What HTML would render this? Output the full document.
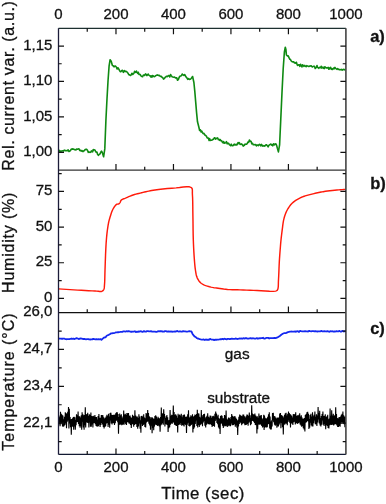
<!DOCTYPE html><html><head><meta charset="utf-8"><style>html,body{margin:0;padding:0;background:#fff;width:386px;height:504px;overflow:hidden}svg{display:block;will-change:transform}</style></head><body>
<svg width="386" height="504" viewBox="0 0 386 504" style='font-family:"Liberation Sans", sans-serif'>
<rect width="386" height="504" fill="#fff"/>
<style>text{stroke:#111;stroke-width:0.3px;paint-order:stroke}</style>
<polyline points="58.50,149.75 59.60,151.31 60.37,151.03 61.13,151.14 61.90,150.94 62.67,150.84 63.43,151.10 64.20,150.15 65.00,150.72 65.80,150.45 66.60,150.74 67.37,150.78 68.13,149.83 68.90,151.51 69.67,151.04 70.43,150.77 71.20,149.19 72.00,148.89 72.80,149.13 73.60,149.12 74.37,149.68 75.13,149.57 75.90,150.01 76.67,148.98 77.43,149.22 78.20,148.94 78.97,148.70 79.73,150.53 80.50,150.23 81.10,151.09 81.70,150.48 82.30,150.88 82.90,151.59 83.67,150.94 84.43,150.58 85.20,149.55 86.00,149.38 86.80,149.33 87.57,150.45 88.33,152.37 89.10,152.02 89.87,152.41 90.63,152.29 91.40,150.91 92.02,151.45 92.64,151.82 93.26,149.45 93.88,150.09 94.50,149.84 95.10,150.18 95.70,151.75 96.30,152.19 96.90,152.12 97.65,154.45 98.40,155.30 99.20,154.52 100.00,153.86 100.75,152.22 101.50,151.07 102.30,152.50 103.60,156.80 104.80,148.90 105.90,120.50 107.00,98.70 108.00,81.20 109.10,65.90 110.10,59.72 111.20,61.20 112.40,65.47 113.20,65.73 114.00,66.83 114.80,66.14 115.60,66.12 116.35,67.13 117.10,68.97 117.90,67.78 118.70,68.93 119.47,70.44 120.23,71.67 121.00,71.65 121.77,70.43 122.53,70.32 123.30,72.31 123.90,71.28 124.50,70.68 125.10,71.56 125.70,71.26 126.47,71.46 127.23,72.28 128.00,73.16 128.77,74.62 129.53,74.80 130.30,75.51 131.10,75.03 131.90,73.26 132.70,74.47 133.32,73.89 133.94,73.26 134.56,71.38 135.18,71.80 135.80,72.31 136.42,71.03 137.04,72.33 137.66,73.37 138.28,72.29 138.90,74.37 139.52,74.35 140.14,74.55 140.76,75.45 141.38,76.27 142.00,76.57 142.62,76.77 143.24,75.26 143.86,74.99 144.48,75.45 145.10,74.42 145.72,73.97 146.34,75.17 146.96,75.58 147.58,74.53 148.20,74.07 148.82,75.14 149.44,75.45 150.06,75.68 150.68,77.02 151.30,75.88 151.92,77.16 152.54,75.54 153.16,75.73 153.78,76.48 154.40,76.68 155.12,76.22 155.85,75.61 156.58,75.19 157.30,74.89 158.10,75.41 158.90,75.23 159.70,75.77 160.47,76.34 161.23,76.40 162.00,77.26 162.77,77.67 163.53,79.07 164.30,78.59 165.10,77.44 165.90,76.78 166.70,76.29 167.47,76.62 168.23,75.63 169.00,75.83 169.77,76.94 170.53,74.53 171.30,75.63 172.10,76.71 172.90,77.07 173.70,77.24 174.47,77.01 175.23,77.83 176.00,77.77 176.77,77.89 177.53,80.26 178.30,79.61 179.10,77.52 179.90,76.24 180.67,75.93 181.43,75.80 182.20,73.96 183.00,74.91 183.80,75.41 184.55,74.50 185.30,75.56 186.10,77.07 186.90,77.91 187.75,79.39 188.60,78.58 189.40,79.34 190.20,79.30 190.85,78.82 191.50,78.06 192.60,76.50 193.90,82.50 194.80,91.40 195.70,102.10 196.60,112.90 197.50,121.80 198.90,127.29 199.63,130.45 200.37,129.83 201.10,132.01 201.78,131.15 202.45,132.61 203.12,133.67 203.80,133.31 204.45,134.19 205.10,135.23 205.75,135.51 206.40,136.05 207.07,137.69 207.75,138.08 208.43,137.95 209.10,140.45 209.70,138.68 210.30,140.48 210.90,140.34 211.57,140.15 212.25,140.07 212.93,139.36 213.60,139.18 214.28,137.88 214.95,137.89 215.62,139.17 216.30,138.22 216.95,138.18 217.60,137.92 218.25,139.56 218.90,139.25 219.57,140.33 220.25,139.54 220.93,140.75 221.60,140.72 222.28,142.08 222.95,142.80 223.62,141.54 224.30,143.24 225.02,143.07 225.74,142.55 226.46,141.66 227.18,143.86 227.90,143.14 228.60,143.37 229.30,144.51 230.00,145.05 230.62,145.70 231.24,144.19 231.86,145.48 232.48,145.69 233.10,145.67 233.72,144.59 234.34,144.15 234.96,145.11 235.58,144.47 236.20,144.37 236.82,145.03 237.44,143.90 238.06,142.56 238.68,143.59 239.30,142.59 240.10,144.39 240.90,144.29 241.70,143.93 242.45,144.94 243.20,146.10 243.80,145.17 244.40,145.45 245.00,144.14 245.60,144.32 246.37,144.16 247.13,143.80 247.90,142.00 248.65,142.33 249.40,140.07 250.20,141.15 251.00,141.22 251.77,143.84 252.53,143.26 253.30,144.79 253.92,144.68 254.54,144.78 255.16,144.45 255.78,144.94 256.40,145.87 257.02,144.89 257.64,145.24 258.26,145.58 258.88,144.92 259.50,144.34 260.14,144.87 260.78,145.94 261.42,144.41 262.06,145.14 262.70,146.20 263.32,146.08 263.94,145.60 264.56,146.08 265.18,145.70 265.80,144.89 266.57,144.89 267.33,145.68 268.10,146.85 268.87,145.46 269.63,144.76 270.40,144.34 271.00,144.08 271.60,145.13 272.20,144.69 272.80,145.82 273.57,143.75 274.33,144.93 275.10,143.92 275.90,143.78 276.70,145.60 277.40,148.40 278.40,151.90 279.60,144.80 280.80,118.60 282.00,92.40 283.20,68.60 284.40,51.90 285.30,47.20 285.90,49.40 286.40,55.03 287.40,55.93 288.20,55.81 289.00,57.67 289.75,59.17 290.50,59.52 291.30,61.02 292.10,61.75 292.90,61.85 293.70,61.80 294.37,62.83 295.03,62.86 295.70,63.17 296.40,62.25 297.10,64.64 297.80,65.49 298.50,64.69 299.20,64.75 299.90,66.36 300.57,64.25 301.23,65.68 301.90,66.95 302.60,64.84 303.30,65.71 304.00,66.33 304.70,65.46 305.40,66.20 306.10,66.74 306.80,65.59 307.50,66.01 308.20,66.18 308.87,66.56 309.53,66.11 310.20,66.08 310.90,65.69 311.60,66.18 312.30,67.04 313.02,66.66 313.75,66.19 314.48,66.30 315.20,68.50 315.80,67.65 316.40,67.41 317.00,65.53 317.60,67.52 318.20,67.50 318.80,68.29 319.40,67.59 320.00,67.36 320.60,67.74 321.20,66.28 321.80,68.09 322.40,67.69 323.00,67.10 323.60,68.35 324.20,68.66 324.80,66.76 325.47,67.27 326.14,67.92 326.81,67.92 327.49,67.65 328.16,67.37 328.83,69.30 329.50,68.72 330.10,67.45 330.70,67.42 331.30,69.31 331.90,68.94 332.50,69.51 333.10,68.96 333.70,68.01 334.30,68.76 334.97,67.40 335.64,68.35 336.31,68.86 336.99,69.31 337.66,68.66 338.33,69.13 339.00,69.58 339.65,69.60 340.30,69.82 340.95,69.64 341.60,69.39 342.25,70.12 342.90,69.75 343.55,69.29 344.20,69.48 344.85,69.93 345.50,70.00" fill="none" stroke="#0f8a12" stroke-width="1.6" stroke-linejoin="round"/>
<polyline points="58.50,288.90 62.36,289.14 66.23,289.39 70.09,289.64 73.92,289.88 77.70,290.10 81.34,290.31 85.05,290.51 88.67,290.70 92.04,290.87 95.00,291.00 96.70,291.12 98.32,291.29 99.79,291.42 101.07,291.42 102.10,291.20 102.57,290.97 102.96,290.68 103.28,290.34 103.55,289.95 103.80,289.50 104.07,288.77 104.24,287.94 104.34,287.00 104.41,285.95 104.50,284.80 104.66,282.47 104.76,279.74 104.84,276.74 104.91,273.62 105.00,270.50 105.13,266.78 105.26,262.84 105.40,258.85 105.54,254.98 105.70,251.40 105.82,248.82 105.95,246.37 106.08,244.03 106.23,241.75 106.40,239.50 106.57,237.52 106.75,235.59 106.95,233.70 107.16,231.84 107.40,230.00 107.64,228.28 107.90,226.57 108.17,224.89 108.47,223.26 108.80,221.70 109.11,220.42 109.44,219.19 109.79,217.99 110.15,216.83 110.50,215.70 110.81,214.71 111.11,213.74 111.42,212.80 111.75,211.88 112.10,211.00 112.44,210.23 112.80,209.49 113.18,208.77 113.57,208.07 114.00,207.40 114.43,206.75 114.89,206.09 115.37,205.47 115.87,204.93 116.40,204.50 116.87,204.28 117.38,204.15 117.90,204.07 118.38,203.97 118.80,203.80 119.09,203.61 119.34,203.39 119.57,203.15 119.79,202.89 120.00,202.60 120.23,202.17 120.42,201.68 120.60,201.16 120.85,200.66 121.20,200.20 121.91,199.66 122.81,199.19 123.83,198.77 124.92,198.35 126.00,197.90 127.32,197.31 128.73,196.70 130.18,196.10 131.65,195.52 133.10,195.00 134.51,194.56 135.93,194.16 137.35,193.80 138.77,193.45 140.20,193.10 141.63,192.74 143.06,192.39 144.50,192.05 145.94,191.72 147.40,191.40 148.84,191.10 150.24,190.81 151.67,190.54 153.23,190.27 155.00,190.00 158.59,189.53 162.84,189.05 167.39,188.59 171.92,188.19 176.10,187.90 179.58,187.55 183.19,187.08 186.59,186.76 189.44,186.84 191.40,187.60 192.08,188.53 192.35,189.70 192.39,191.08 192.35,192.63 192.40,194.30 192.61,197.78 192.72,201.93 192.79,206.47 192.83,211.15 192.90,215.70 192.98,220.42 193.03,225.26 193.09,230.11 193.17,234.89 193.30,239.50 193.45,243.53 193.63,247.51 193.83,251.39 194.05,255.10 194.30,258.60 194.50,261.21 194.71,263.71 194.93,266.10 195.19,268.37 195.50,270.50 195.75,272.07 196.00,273.56 196.29,274.98 196.64,276.32 197.10,277.60 197.60,278.68 198.17,279.73 198.80,280.70 199.48,281.60 200.20,282.40 200.84,282.99 201.50,283.51 202.21,283.96 202.96,284.38 203.80,284.80 205.06,285.34 206.48,285.84 207.98,286.31 209.51,286.73 211.00,287.10 212.40,287.41 213.78,287.66 215.18,287.88 216.61,288.09 218.10,288.30 219.89,288.57 221.74,288.83 223.64,289.09 225.59,289.31 227.60,289.50 229.94,289.64 232.34,289.73 234.82,289.78 237.37,289.83 240.00,289.90 243.23,290.01 246.61,290.13 250.08,290.25 253.59,290.38 257.10,290.50 261.06,290.73 265.36,291.06 269.54,291.33 273.11,291.40 275.60,291.10 276.18,290.91 276.63,290.71 276.99,290.47 277.31,290.14 277.60,289.70 278.05,288.36 278.28,286.53 278.36,284.37 278.40,282.04 278.50,279.70 278.68,276.45 278.84,272.88 278.98,269.17 279.13,265.49 279.30,262.00 279.48,259.03 279.68,256.09 279.89,253.24 280.10,250.52 280.30,248.00 280.44,246.28 280.56,244.70 280.69,243.18 280.84,241.64 281.00,240.00 281.22,237.93 281.48,235.75 281.75,233.52 282.02,231.32 282.30,229.20 282.54,227.32 282.77,225.46 283.01,223.65 283.28,221.89 283.60,220.20 283.92,218.81 284.26,217.47 284.64,216.18 285.05,214.92 285.50,213.70 285.96,212.60 286.44,211.53 286.97,210.50 287.52,209.49 288.10,208.50 288.70,207.55 289.33,206.61 289.99,205.69 290.68,204.82 291.40,204.00 292.12,203.27 292.88,202.57 293.66,201.92 294.47,201.30 295.30,200.70 296.16,200.12 297.05,199.58 297.96,199.06 298.88,198.57 299.80,198.10 300.69,197.67 301.58,197.27 302.48,196.89 303.39,196.53 304.30,196.20 305.21,195.90 306.12,195.64 307.03,195.39 307.96,195.15 308.90,194.90 309.90,194.63 310.90,194.37 311.92,194.11 312.95,193.85 314.00,193.60 315.17,193.33 316.37,193.06 317.59,192.80 318.81,192.54 320.00,192.30 321.08,192.08 322.12,191.88 323.17,191.68 324.27,191.49 325.50,191.30 327.54,191.02 329.84,190.74 332.26,190.47 334.66,190.22 336.90,190.00 338.70,189.85 340.43,189.72 342.12,189.62 343.80,189.51 345.50,189.40" fill="none" stroke="#ff1a0a" stroke-width="1.45" stroke-linejoin="round"/>
<polyline points="58.50,338.47 59.60,338.61 60.70,338.63 61.80,338.74 62.90,338.73 64.00,338.52 65.10,339.01 66.20,339.23 67.30,339.14 68.40,339.05 69.43,339.17 70.46,338.78 71.49,338.51 72.52,338.95 73.55,338.67 74.58,339.04 75.61,338.55 76.64,338.12 77.67,338.48 78.70,339.09 79.74,338.64 80.78,338.44 81.82,338.63 82.86,338.99 83.90,339.02 84.94,338.98 85.98,339.35 87.02,339.20 88.06,339.05 89.10,339.25 90.13,339.51 91.17,339.34 92.20,339.36 93.23,338.83 94.27,339.06 95.30,339.28 96.33,339.03 97.37,339.37 98.40,339.25 99.43,339.33 100.47,339.05 101.50,339.74 102.53,338.84 103.57,337.91 104.60,337.42 105.63,337.25 106.67,335.71 107.70,335.22 108.75,334.82 109.80,334.15 110.85,333.43 111.90,333.35 112.93,333.14 113.95,333.08 114.97,332.75 116.00,332.31 117.04,332.43 118.08,332.26 119.11,332.09 120.15,331.96 121.19,331.80 122.22,331.95 123.26,331.42 124.30,331.44 125.35,331.60 126.41,331.23 127.46,331.49 128.52,331.10 129.57,331.43 130.62,331.74 131.68,331.74 132.73,331.59 133.78,331.54 134.84,331.25 135.89,332.06 136.95,331.73 138.00,331.87 139.00,331.37 140.00,331.54 141.00,331.13 142.00,331.78 143.00,331.81 144.00,331.10 145.00,331.56 146.00,331.72 147.00,331.12 148.00,331.10 149.00,331.28 150.00,331.39 151.00,331.19 152.00,331.54 153.00,331.59 154.00,331.69 155.00,331.70 156.00,331.89 157.00,331.80 158.00,331.18 159.00,331.38 160.00,331.23 161.00,331.24 162.00,331.49 163.00,331.52 164.00,331.64 165.00,331.13 166.00,331.22 167.00,331.53 168.00,331.49 169.00,331.47 170.00,331.53 171.00,331.37 172.00,331.74 173.00,331.65 174.00,331.55 175.00,331.41 176.00,331.54 177.00,330.90 178.00,331.34 179.00,331.60 180.00,331.22 181.04,331.63 182.07,331.60 183.11,331.20 184.15,331.46 185.18,331.43 186.22,331.61 187.25,331.63 188.29,331.45 189.33,331.22 190.36,331.38 191.40,331.38 192.40,333.68 193.45,335.12 194.50,336.42 195.53,336.96 196.57,337.91 197.60,338.51 198.63,338.69 199.67,339.20 200.70,339.38 201.74,339.53 202.77,339.63 203.81,339.40 204.84,340.08 205.88,339.42 206.91,339.78 207.95,339.53 208.99,339.78 210.02,338.91 211.06,339.31 212.09,339.56 213.13,339.65 214.16,340.08 215.20,339.58 216.25,339.75 217.30,339.56 218.35,339.54 219.40,339.36 220.45,339.13 221.50,339.23 222.53,338.80 223.57,339.33 224.60,338.74 225.64,339.02 226.68,339.46 227.71,338.83 228.75,338.86 229.78,339.11 230.81,338.79 231.85,338.55 232.88,338.78 233.92,338.83 234.95,338.82 235.99,338.42 237.02,339.01 238.06,338.96 239.09,338.51 240.13,338.54 241.16,338.33 242.20,338.75 243.25,338.21 244.29,338.54 245.34,338.24 246.39,338.18 247.44,338.52 248.48,338.66 249.53,338.32 250.58,338.14 251.62,338.50 252.67,338.27 253.72,338.35 254.76,338.64 255.81,338.53 256.86,338.11 257.91,338.79 258.95,338.21 260.00,338.40 261.02,338.04 262.04,338.19 263.06,337.76 264.07,338.65 265.09,338.54 266.11,337.90 267.13,337.82 268.15,337.79 269.17,338.49 270.19,338.09 271.21,338.18 272.23,338.12 273.24,338.17 274.26,337.93 275.28,338.21 276.30,337.84 277.47,337.42 278.63,336.74 279.80,336.02 280.97,335.04 282.13,334.07 283.30,333.54 284.48,333.03 285.65,333.19 286.82,332.64 288.00,332.07 289.00,331.87 290.00,331.70 291.00,331.52 292.00,331.55 293.00,331.60 294.00,331.54 295.00,331.44 296.01,331.82 297.03,331.12 298.04,331.30 299.05,332.00 300.07,330.83 301.08,331.17 302.09,331.34 303.10,331.34 304.12,331.40 305.13,331.24 306.14,331.39 307.16,331.31 308.17,331.49 309.18,330.83 310.20,331.08 311.21,331.30 312.22,331.04 313.23,331.04 314.25,331.46 315.26,331.14 316.27,331.46 317.29,331.49 318.30,331.38 319.31,331.43 320.31,331.27 321.32,330.95 322.33,331.29 323.34,331.41 324.34,331.17 325.35,331.28 326.36,331.49 327.37,331.08 328.37,331.46 329.38,331.77 330.39,331.16 331.40,331.34 332.40,331.26 333.41,331.69 334.42,331.38 335.43,331.52 336.43,331.13 337.44,331.30 338.45,331.30 339.46,330.86 340.46,331.66 341.47,331.52 342.48,330.86 343.49,331.49 344.49,331.27 345.50,331.30" fill="none" stroke="#1428f0" stroke-width="1.8" stroke-linejoin="round"/>
<polyline points="58.50,426.18 58.90,415.65 59.30,424.24 59.70,417.22 60.10,426.29 60.50,411.68 60.90,424.30 61.30,413.81 61.70,423.07 62.10,414.89 62.50,426.48 62.90,415.47 63.30,426.78 63.70,419.34 64.10,426.24 64.50,416.80 64.90,424.99 65.30,412.35 65.70,423.42 66.10,413.33 66.50,428.14 66.90,413.42 67.30,421.80 67.70,411.82 68.10,420.43 68.50,407.06 68.90,428.43 69.30,408.74 69.70,423.57 70.10,417.05 70.50,427.22 70.90,419.25 71.30,434.68 71.70,419.01 72.10,425.89 72.50,418.37 72.90,426.99 73.30,417.12 73.70,429.65 74.10,416.71 74.50,426.38 74.90,417.19 75.30,429.80 75.70,419.97 76.10,425.26 76.50,414.25 76.90,422.27 77.30,415.34 77.70,421.99 78.10,411.47 78.50,423.92 78.90,416.23 79.30,426.30 79.70,416.22 80.10,427.74 80.50,417.54 80.90,426.25 81.30,415.18 81.70,429.64 82.10,412.21 82.50,421.60 82.90,414.16 83.30,427.59 83.70,415.18 84.10,429.80 84.50,414.94 84.90,425.23 85.30,407.30 85.70,427.39 86.10,414.55 86.50,422.29 86.90,414.15 87.30,422.80 87.70,412.70 88.10,422.87 88.50,415.92 88.90,427.57 89.30,414.27 89.70,422.40 90.10,414.77 90.50,426.79 90.90,412.64 91.30,426.75 91.70,416.11 92.10,424.39 92.50,416.36 92.90,427.52 93.30,415.75 93.70,423.21 94.10,416.44 94.50,422.99 94.90,415.05 95.30,424.13 95.70,416.93 96.10,426.05 96.50,416.93 96.90,426.60 97.30,419.45 97.70,426.43 98.10,415.91 98.50,426.21 98.90,414.07 99.30,424.67 99.70,417.81 100.10,426.91 100.50,417.70 100.90,425.01 101.30,414.93 101.70,422.95 102.10,414.93 102.50,424.55 102.90,415.22 103.30,426.90 103.70,417.17 104.10,428.60 104.50,418.46 104.90,427.08 105.30,417.87 105.70,426.15 106.10,416.63 106.50,423.56 106.90,414.90 107.30,422.91 107.70,415.84 108.10,426.87 108.50,413.77 108.90,424.64 109.30,416.61 109.70,427.70 110.10,413.03 110.50,420.55 110.90,412.65 111.30,423.45 111.70,414.87 112.10,424.48 112.50,415.09 112.90,423.07 113.30,415.13 113.70,423.25 114.10,414.59 114.50,425.07 114.90,414.97 115.30,423.21 115.70,413.28 116.10,420.99 116.50,412.16 116.90,420.16 117.30,412.22 117.70,422.26 118.10,414.01 118.50,433.78 118.90,416.93 119.30,424.58 119.70,413.40 120.10,425.08 120.50,415.25 120.90,424.09 121.30,414.20 121.70,425.18 122.10,418.32 122.50,424.80 122.90,416.64 123.30,424.36 123.70,410.59 124.10,424.63 124.50,414.42 124.90,422.55 125.30,413.71 125.70,424.23 126.10,415.00 126.50,424.98 126.90,412.97 127.30,422.20 127.70,413.35 128.10,422.26 128.50,413.09 128.90,423.37 129.30,415.76 129.70,423.70 130.10,415.63 130.50,424.95 130.90,417.32 131.30,427.97 131.70,418.09 132.10,424.44 132.50,414.86 132.90,424.05 133.30,415.75 133.70,426.83 134.10,416.15 134.50,425.02 134.90,410.37 135.30,424.33 135.70,415.50 136.10,424.09 136.50,416.62 136.90,427.07 137.30,416.51 137.70,428.69 138.10,418.01 138.50,426.57 138.90,414.30 139.30,423.54 139.70,416.60 140.10,428.72 140.50,420.36 140.90,432.68 141.30,416.03 141.70,423.81 142.10,415.78 142.50,426.01 142.90,416.69 143.30,425.08 143.70,414.33 144.10,424.30 144.50,417.43 144.90,426.90 145.30,418.39 145.70,427.58 146.10,413.05 146.50,422.41 146.90,413.79 147.30,421.63 147.70,409.96 148.10,421.50 148.50,413.04 148.90,423.73 149.30,416.32 149.70,425.57 150.10,416.97 150.50,429.64 150.90,418.51 151.30,425.70 151.70,417.16 152.10,433.32 152.50,417.52 152.90,428.10 153.30,418.49 153.70,430.11 154.10,418.84 154.50,426.60 154.90,416.13 155.30,424.58 155.70,415.30 156.10,424.94 156.50,416.45 156.90,425.15 157.30,418.61 157.70,425.95 158.10,416.89 158.50,425.46 158.90,417.94 159.30,426.50 159.70,418.63 160.10,431.77 160.50,416.91 160.90,425.38 161.30,407.53 161.70,424.57 162.10,413.24 162.50,423.11 162.90,413.45 163.30,424.69 163.70,409.27 164.10,418.35 164.50,414.10 164.90,426.36 165.30,418.05 165.70,424.12 166.10,416.17 166.50,424.37 166.90,415.02 167.30,424.99 167.70,417.20 168.10,432.00 168.50,420.17 168.90,428.32 169.30,420.08 169.70,427.28 170.10,409.90 170.50,424.83 170.90,415.79 171.30,423.32 171.70,414.73 172.10,423.96 172.50,415.10 172.90,422.63 173.30,405.49 173.70,422.59 174.10,411.98 174.50,424.66 174.90,414.78 175.30,424.98 175.70,414.36 176.10,426.10 176.50,415.54 176.90,425.99 177.30,417.82 177.70,432.41 178.10,413.73 178.50,424.89 178.90,415.39 179.30,424.35 179.70,414.51 180.10,425.01 180.50,415.49 180.90,423.29 181.30,413.72 181.70,425.66 182.10,417.22 182.50,425.05 182.90,415.32 183.30,425.45 183.70,414.85 184.10,426.36 184.50,414.55 184.90,424.33 185.30,416.99 185.70,425.03 186.10,416.60 186.50,432.91 186.90,416.88 187.30,424.66 187.70,414.18 188.10,422.64 188.50,410.18 188.90,425.90 189.30,417.73 189.70,426.40 190.10,416.77 190.50,425.76 190.90,415.20 191.30,424.97 191.70,416.19 192.10,423.91 192.50,414.37 192.90,432.42 193.30,416.73 193.70,428.92 194.10,415.92 194.50,427.44 194.90,414.53 195.30,424.03 195.70,415.01 196.10,420.46 196.50,413.96 196.90,426.09 197.30,409.87 197.70,427.39 198.10,413.38 198.50,425.10 198.90,413.64 199.30,426.87 199.70,416.90 200.10,425.29 200.50,417.71 200.90,424.56 201.30,410.07 201.70,423.79 202.10,416.55 202.50,426.26 202.90,414.93 203.30,422.44 203.70,414.08 204.10,421.03 204.50,413.78 204.90,425.67 205.30,418.35 205.70,427.55 206.10,417.03 206.50,424.62 206.90,415.89 207.30,423.46 207.70,413.19 208.10,424.24 208.50,416.72 208.90,424.23 209.30,417.63 209.70,424.38 210.10,415.44 210.50,424.01 210.90,415.85 211.30,424.91 211.70,417.89 212.10,427.04 212.50,416.38 212.90,426.07 213.30,415.80 213.70,425.95 214.10,416.54 214.50,426.66 214.90,413.85 215.30,420.93 215.70,411.54 216.10,419.52 216.50,413.45 216.90,423.08 217.30,416.28 217.70,424.31 218.10,414.87 218.50,427.50 218.90,417.93 219.30,428.82 219.70,418.92 220.10,434.03 220.50,416.08 220.90,423.69 221.30,415.23 221.70,423.45 222.10,415.78 222.50,425.68 222.90,418.37 223.30,427.99 223.70,418.35 224.10,426.41 224.50,415.08 224.90,425.75 225.30,415.61 225.70,426.13 226.10,410.39 226.50,425.67 226.90,418.69 227.30,427.00 227.70,419.80 228.10,425.53 228.50,417.56 228.90,426.22 229.30,417.66 229.70,425.39 230.10,419.22 230.50,426.13 230.90,416.97 231.30,423.49 231.70,414.03 232.10,425.33 232.50,415.81 232.90,425.24 233.30,416.43 233.70,424.96 234.10,416.48 234.50,423.96 234.90,415.96 235.30,426.61 235.70,417.52 236.10,425.33 236.50,418.86 236.90,427.75 237.30,420.54 237.70,434.89 238.10,419.74 238.50,426.48 238.90,416.87 239.30,424.01 239.70,414.52 240.10,422.25 240.50,415.28 240.90,423.33 241.30,415.87 241.70,425.19 242.10,416.33 242.50,423.85 242.90,414.60 243.30,423.08 243.70,414.55 244.10,423.84 244.50,416.16 244.90,425.15 245.30,417.53 245.70,424.92 246.10,416.38 246.50,424.66 246.90,414.44 247.30,423.90 247.70,414.71 248.10,425.69 248.50,416.14 248.90,422.68 249.30,412.44 249.70,421.73 250.10,415.26 250.50,425.27 250.90,417.96 251.30,424.24 251.70,405.22 252.10,420.72 252.50,413.57 252.90,420.87 253.30,414.18 253.70,421.82 254.10,414.46 254.50,423.01 254.90,413.55 255.30,424.93 255.70,415.56 256.10,425.32 256.50,416.41 256.90,433.39 257.30,416.19 257.70,429.22 258.10,417.85 258.50,424.49 258.90,413.54 259.30,424.78 259.70,415.68 260.10,424.23 260.50,415.45 260.90,424.65 261.30,414.93 261.70,425.87 262.10,418.29 262.50,427.39 262.90,419.34 263.30,426.78 263.70,414.77 264.10,430.02 264.50,415.63 264.90,427.77 265.30,417.83 265.70,426.97 266.10,419.11 266.50,427.38 266.90,418.04 267.30,427.19 267.70,416.87 268.10,424.30 268.50,414.37 268.90,424.09 269.30,412.27 269.70,428.37 270.10,416.63 270.50,429.40 270.90,421.43 271.30,429.52 271.70,420.17 272.10,426.57 272.50,413.12 272.90,420.35 273.30,412.89 273.70,422.24 274.10,416.09 274.50,424.64 274.90,416.34 275.30,425.71 275.70,417.50 276.10,424.80 276.50,418.59 276.90,427.68 277.30,417.61 277.70,426.36 278.10,418.05 278.50,426.56 278.90,417.23 279.30,424.59 279.70,413.61 280.10,422.83 280.50,413.08 280.90,428.15 281.30,414.93 281.70,423.06 282.10,415.59 282.50,427.18 282.90,416.30 283.30,434.56 283.70,417.63 284.10,424.82 284.50,414.69 284.90,424.60 285.30,413.39 285.70,423.42 286.10,412.86 286.50,423.75 286.90,415.64 287.30,425.33 287.70,413.76 288.10,421.92 288.50,411.40 288.90,420.47 289.30,413.10 289.70,422.66 290.10,414.13 290.50,427.43 290.90,414.85 291.30,423.21 291.70,415.66 292.10,423.75 292.50,417.48 292.90,425.00 293.30,414.10 293.70,422.34 294.10,414.43 294.50,421.80 294.90,413.99 295.30,424.51 295.70,412.39 296.10,423.35 296.50,416.02 296.90,423.05 297.30,415.27 297.70,424.05 298.10,415.41 298.50,422.92 298.90,414.85 299.30,422.50 299.70,413.31 300.10,424.42 300.50,416.58 300.90,425.58 301.30,415.26 301.70,426.79 302.10,417.63 302.50,425.90 302.90,419.03 303.30,428.29 303.70,418.44 304.10,429.60 304.50,417.91 304.90,431.46 305.30,414.97 305.70,422.67 306.10,414.07 306.50,422.17 306.90,412.28 307.30,420.86 307.70,411.88 308.10,421.51 308.50,413.82 308.90,428.89 309.30,418.92 309.70,427.67 310.10,415.08 310.50,422.62 310.90,413.66 311.30,425.59 311.70,416.44 312.10,426.54 312.50,412.20 312.90,426.41 313.30,416.17 313.70,423.17 314.10,414.72 314.50,420.56 314.90,411.55 315.30,424.12 315.70,416.73 316.10,424.42 316.50,414.25 316.90,425.98 317.30,415.64 317.70,422.45 318.10,407.07 318.50,419.55 318.90,412.96 319.30,423.48 319.70,410.79 320.10,425.42 320.50,418.09 320.90,426.40 321.30,416.12 321.70,424.63 322.10,414.05 322.50,420.56 322.90,411.61 323.30,424.83 323.70,416.05 324.10,425.96 324.50,415.71 324.90,424.21 325.30,414.33 325.70,429.25 326.10,417.01 326.50,424.93 326.90,416.19 327.30,425.92 327.70,414.70 328.10,427.91 328.50,419.15 328.90,428.47 329.30,418.55 329.70,425.15 330.10,408.62 330.50,424.84 330.90,415.86 331.30,424.93 331.70,410.31 332.10,424.71 332.50,415.43 332.90,424.76 333.30,413.76 333.70,425.52 334.10,416.12 334.50,424.56 334.90,415.06 335.30,423.89 335.70,407.22 336.10,424.48 336.50,414.13 336.90,425.57 337.30,417.93 337.70,426.99 338.10,418.52 338.50,427.09 338.90,417.26 339.30,426.10 339.70,417.04 340.10,426.73 340.50,416.59 340.90,423.65 341.30,414.69 341.70,422.38 342.10,413.66 342.50,422.74 342.90,411.63 343.30,423.71 343.70,415.19 344.10,424.34 344.50,416.58 344.90,427.13 345.30,416.55" fill="none" stroke="#000" stroke-width="1.1" stroke-linejoin="miter"/>
<path d="M58.5 28.3H345.9" stroke="#1c3030" stroke-width="1.3"/>
<path d="M58.5 170.1H345.9" stroke="#333" stroke-width="1.4"/>
<path d="M58.5 312.6H345.9" stroke="#111" stroke-width="1.3"/>
<path d="M58.5 454.4H345.9" stroke="#121a32" stroke-width="1.3"/>
<path d="M58.5 28.3V454.4" stroke="#1c1c3a" stroke-width="1.3"/>
<path d="M345.9 28.3V454.4" stroke="#444" stroke-width="1.6"/>
<path d="M87.24 28.30v3.4M115.98 28.30v6M144.72 28.30v3.4M173.46 28.30v6M202.20 28.30v3.4M230.94 28.30v6M259.68 28.30v3.4M288.42 28.30v6M317.16 28.30v3.4M87.24 170.10v-3.4M115.98 170.10v-6M144.72 170.10v-3.4M173.46 170.10v-6M202.20 170.10v-3.4M230.94 170.10v-6M259.68 170.10v-3.4M288.42 170.10v-6M317.16 170.10v-3.4M87.24 312.60v-3.4M115.98 312.60v-6M144.72 312.60v-3.4M173.46 312.60v-6M202.20 312.60v-3.4M230.94 312.60v-6M259.68 312.60v-3.4M288.42 312.60v-6M317.16 312.60v-3.4M87.24 454.40v-3.4M115.98 454.40v-6M144.72 454.40v-3.4M173.46 454.40v-6M202.20 454.40v-3.4M230.94 454.40v-6M259.68 454.40v-3.4M288.42 454.40v-6M317.16 454.40v-3.4M58.50 46.03h5.5M345.90 46.03h-5.5M58.50 81.47h5.5M345.90 81.47h-5.5M58.50 116.92h5.5M345.90 116.92h-5.5M58.50 152.38h5.5M345.90 152.38h-5.5M58.50 63.75h3.2M345.90 63.75h-3.2M58.50 99.20h3.2M345.90 99.20h-3.2M58.50 134.65h3.2M345.90 134.65h-3.2M58.50 191.47h5.5M345.90 191.47h-5.5M58.50 227.10h5.5M345.90 227.10h-5.5M58.50 262.73h5.5M345.90 262.73h-5.5M58.50 298.35h5.5M345.90 298.35h-5.5M58.50 173.66h3.2M345.90 173.66h-3.2M58.50 209.29h3.2M345.90 209.29h-3.2M58.50 244.91h3.2M345.90 244.91h-3.2M58.50 280.54h3.2M345.90 280.54h-3.2M58.50 349.47h5.5M345.90 349.47h-5.5M58.50 386.34h5.5M345.90 386.34h-5.5M58.50 423.20h5.5M345.90 423.20h-5.5M58.50 331.03h3.2M345.90 331.03h-3.2M58.50 367.90h3.2M345.90 367.90h-3.2M58.50 404.77h3.2M345.90 404.77h-3.2M58.50 441.64h3.2M345.90 441.64h-3.2" stroke="#111" stroke-width="1.2" fill="none"/>
<text x="58.50" y="18.8" font-size="15" text-anchor="middle" fill="#111">0</text>
<text x="58.50" y="472.4" font-size="15" text-anchor="middle" fill="#111">0</text>
<text x="115.98" y="18.8" font-size="15" text-anchor="middle" fill="#111">200</text>
<text x="115.98" y="472.4" font-size="15" text-anchor="middle" fill="#111">200</text>
<text x="173.46" y="18.8" font-size="15" text-anchor="middle" fill="#111">400</text>
<text x="173.46" y="472.4" font-size="15" text-anchor="middle" fill="#111">400</text>
<text x="230.94" y="18.8" font-size="15" text-anchor="middle" fill="#111">600</text>
<text x="230.94" y="472.4" font-size="15" text-anchor="middle" fill="#111">600</text>
<text x="288.42" y="18.8" font-size="15" text-anchor="middle" fill="#111">800</text>
<text x="288.42" y="472.4" font-size="15" text-anchor="middle" fill="#111">800</text>
<text x="345.90" y="18.8" font-size="15" text-anchor="middle" fill="#111">1000</text>
<text x="345.90" y="472.4" font-size="15" text-anchor="middle" fill="#111">1000</text>
<text x="52.4" y="49.73" font-size="15" text-anchor="end" fill="#111">1,15</text>
<text x="52.4" y="85.17" font-size="15" text-anchor="end" fill="#111">1,10</text>
<text x="52.4" y="120.62" font-size="15" text-anchor="end" fill="#111">1,05</text>
<text x="52.4" y="156.08" font-size="15" text-anchor="end" fill="#111">1,00</text>
<text x="52.4" y="195.17" font-size="15" text-anchor="end" fill="#111">75</text>
<text x="52.4" y="230.80" font-size="15" text-anchor="end" fill="#111">50</text>
<text x="52.4" y="266.43" font-size="15" text-anchor="end" fill="#111">25</text>
<text x="52.4" y="302.05" font-size="15" text-anchor="end" fill="#111">0</text>
<text x="52.4" y="316.30" font-size="15" text-anchor="end" fill="#111">26,0</text>
<text x="52.4" y="353.17" font-size="15" text-anchor="end" fill="#111">24,7</text>
<text x="52.4" y="390.04" font-size="15" text-anchor="end" fill="#111">23,4</text>
<text x="52.4" y="426.90" font-size="15" text-anchor="end" fill="#111">22,1</text>
<text transform="translate(13.7 85.6) rotate(-90)" x="0" y="0" font-size="16.0" letter-spacing="0.65" text-anchor="middle" fill="#111">Rel. current var. (a.u.)</text>
<text transform="translate(13.7 242.4) rotate(-90)" x="0" y="0" font-size="16.0" letter-spacing="0.8" text-anchor="middle" fill="#111">Humidity (%)</text>
<text transform="translate(13.7 381.6) rotate(-90)" x="0" y="0" font-size="16.0" letter-spacing="0.95" text-anchor="middle" fill="#111">Temperature (°C)</text>
<text x="203.1" y="498.8" font-size="16.8" letter-spacing="0.5" text-anchor="middle" fill="#111">Time (sec)</text>
<text x="370.2" y="41.9" font-size="16.5" font-weight="bold" fill="#111">a)</text>
<text x="370.2" y="188.7" font-size="16.5" font-weight="bold" fill="#111">b)</text>
<text x="370.2" y="334.1" font-size="16.5" font-weight="bold" fill="#111">c)</text>
<text x="224.8" y="358.8" font-size="15.4" fill="#111">gas</text>
<text x="207.2" y="403" font-size="15.3" fill="#111">substrate</text>
</svg></body></html>
